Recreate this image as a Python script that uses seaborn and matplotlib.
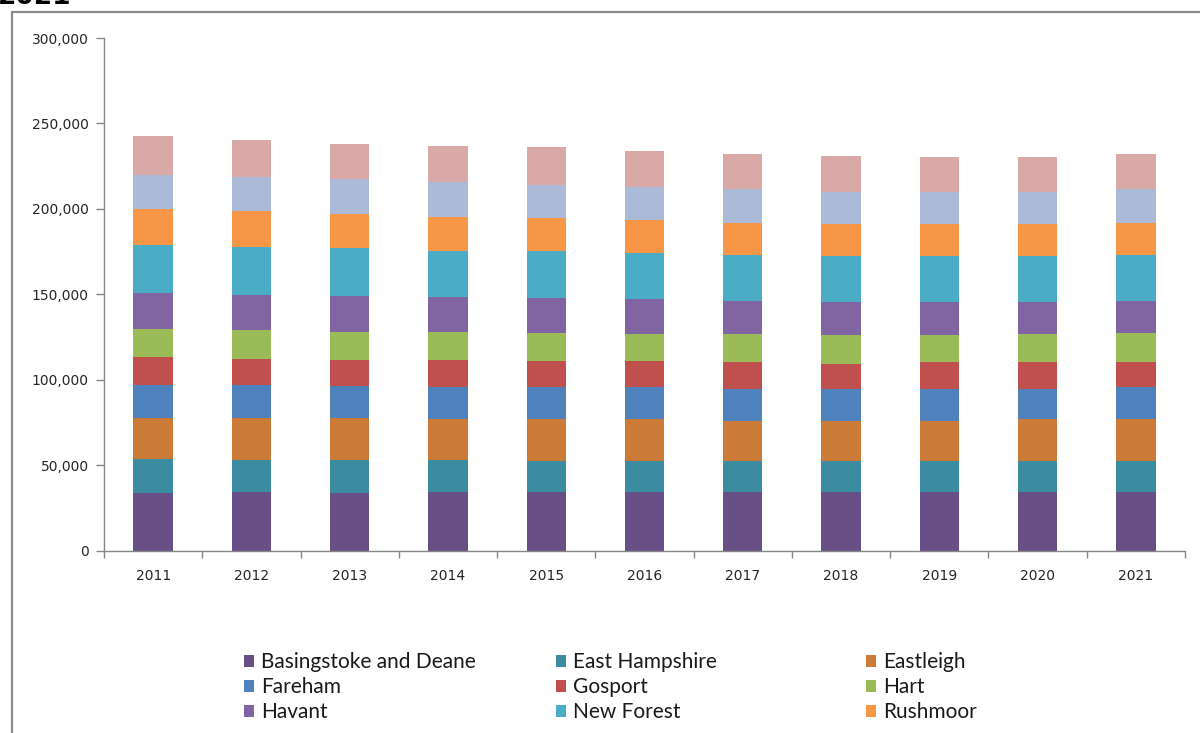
import matplotlib
matplotlib.use("Agg")
import matplotlib.pyplot as plt
from matplotlib.patches import Patch, Rectangle
from matplotlib.ticker import FuncFormatter, FixedLocator
import numpy as np
import pandas as pd
import seaborn as sns

years = ["2011", "2012", "2013", "2014", "2015", "2016", "2017", "2018", "2019", "2020", "2021"]

districts = ["Basingstoke and Deane", "East Hampshire", "Eastleigh", "Fareham", "Gosport",
             "Hart", "Havant", "New Forest", "Rushmoor", "Test Valley", "Winchester"]

basingstoke = [33650, 34420, 33650, 34420, 34420, 34420, 34420, 34420, 34420, 34420, 34420]
east_hampshire = [20100, 18760, 19520, 18760, 18000, 18000, 18000, 18000, 18000, 18000, 18000]
eastleigh = [24040, 24620, 24620, 23860, 24620, 24620, 23630, 23630, 23630, 24620, 24620]
fareham = [19350, 19350, 18760, 18530, 18530, 18530, 18760, 18760, 18760, 17770, 18530]
gosport = [16000, 15240, 15240, 16240, 15480, 15480, 15420, 14660, 15420, 15420, 14660]
hart = [16650, 16590, 16420, 16420, 16420, 15830, 16650, 16590, 15830, 16650, 17410]
havant = [20870, 20930, 21110, 20340, 20290, 20110, 19520, 19700, 19700, 18760, 18760]
new_forest = [28380, 27730, 27560, 26740, 27560, 26970, 26790, 26740, 26740, 26740, 26790]
rushmoor = [20870, 20930, 20110, 20170, 19350, 19350, 18760, 18760, 18760, 18760, 18760]
test_valley = [20170, 20340, 20340, 20290, 19580, 19520, 19520, 18760, 18760, 18760, 19520]
winchester = [22630, 21460, 20930, 21110, 21690, 20930, 20930, 21110, 20340, 20340, 20520]

series = [basingstoke, east_hampshire, eastleigh, fareham, gosport, hart,
          havant, new_forest, rushmoor, test_valley, winchester]

colors = ["#684F86", "#3B8BA1", "#CB7A38", "#4F81BD", "#C0504D", "#9BBB59",
          "#8165A2", "#4BACC6", "#F79646", "#AABAD7", "#D9A9A8"]

# legend only lists the first nine districts
legend_count = 9

sns.set_theme(style="white")
plt.rcParams["font.family"] = ["DejaVu Sans"]

W, H = 1200, 733
fig = plt.figure(figsize=(W / 100, H / 100), dpi=100)
fig.patch.set_facecolor("white")

ax_left, ax_right = 104 / W, 1185 / W
ax_bottom, ax_top = (H - 550.7) / H, (H - 38) / H
ax = fig.add_axes([ax_left, ax_bottom, ax_right - ax_left, ax_top - ax_bottom])

df = pd.DataFrame({name: vals for name, vals in zip(districts, series)}, index=years)
bottoms = np.zeros(len(years))
for name, color in zip(districts, colors):
    sub = pd.DataFrame({"year": years, "value": df[name].values})
    sns.barplot(data=sub, x="year", y="value", color=color, width=0.4,
                bottom=bottoms.copy(), errorbar=None, ax=ax,
                edgecolor="none", linewidth=0, saturation=1)
    bottoms += df[name].values

ax.set_xlim(-0.5, len(years) - 0.5)
ax.set_ylim(0, 300000)
ax.set_xlabel("")
ax.set_ylabel("")

axis_grey = "#868686"
for side in ["top", "right"]:
    ax.spines[side].set_visible(False)
for side in ["left", "bottom"]:
    ax.spines[side].set_color(axis_grey)
    ax.spines[side].set_linewidth(1.0)

ax.set_yticks(np.arange(0, 300001, 50000))
ax.yaxis.set_major_formatter(FuncFormatter(lambda v, p: f"{int(v):,}"))
ax.tick_params(axis="y", which="major", left=True, length=6, width=1, color=axis_grey,
               direction="out", pad=5, labelsize=10, labelcolor="#262626")

ax.tick_params(axis="x", which="major", bottom=True, length=0, pad=13,
               labelsize=10, labelcolor="#262626")
ax.xaxis.set_minor_locator(FixedLocator(np.arange(-0.5, len(years), 1.0)))
ax.tick_params(axis="x", which="minor", bottom=True, length=5, width=1,
               color=axis_grey, direction="out")
ax.grid(False)

handles = [Patch(facecolor=c, edgecolor="none") for c in colors[:legend_count]]
labels = districts[:legend_count]
col_x = [244, 556, 866]
for col in range(3):
    idx = [col, col + 3, col + 6]
    leg = fig.legend([handles[i] for i in idx], [labels[i] for i in idx],
                     loc="upper left", bbox_to_anchor=(col_x[col] / W, (H - 652) / H),
                     bbox_transform=fig.transFigure, frameon=False, ncol=1,
                     borderpad=0, borderaxespad=0, handlelength=0.5, handleheight=0.5,
                     handletextpad=0.3, labelspacing=0.25,
                     prop={"family": "Lato", "size": 15})
    for t in leg.get_texts():
        t.set_color("#1a1a1a")

# chart-area border
fig.add_artist(Rectangle((12 / W, -0.5), 2.0, 0.5 + (H - 12) / H,
                         transform=fig.transFigure, fill=False,
                         edgecolor="#8C8C8C", linewidth=1.6))

fig.text(-2 / W, (H - 4) / H, "2021", ha="left", va="baseline",
         fontsize=19, fontweight="bold", color="#000000")

fig.savefig("out.png", dpi=100, facecolor="white")
